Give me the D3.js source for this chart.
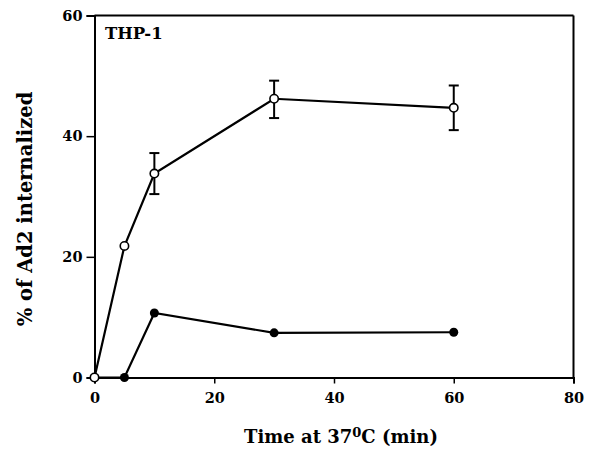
<!DOCTYPE html>
<html><head><meta charset="utf-8">
<script src="https://cdn.jsdelivr.net/npm/d3@7"></script>
<style>body{margin:0;background:#fff}svg{display:block}text{font-family:"DejaVu Serif","Liberation Serif",serif;font-weight:bold;fill:#000}</style>
</head><body><svg id="c" width="592" height="450"></svg>
<script>
const times = [0, 5, 10, 30, 60];
const openVals = [0, 21.8, 33.8, 46.2, 44.7];
const openErrLow = [null, null, 30.4, 43.0, 41.0];
const openErrHigh = [null, null, 37.2, 49.2, 48.4];
const filledVals = [0, 0, 10.7, 7.4, 7.5];
const xTicks = [0, 20, 40, 60, 80];
const yTicks = [0, 20, 40, 60];

const svg = d3.select("#c");
const x = d3.scaleLinear().domain([0, 80]).range([94.5, 573.5]);
const y = d3.scaleLinear().domain([0, 60]).range([377.5, 15.5]);

// frame
svg.append("line").attr("x1", x(0)).attr("x2", x(80)).attr("y1", y(60)).attr("y2", y(60)).attr("stroke", "#000").attr("stroke-width", 2);
svg.append("line").attr("x1", x(80)).attr("x2", x(80)).attr("y1", y(60)).attr("y2", y(0)).attr("stroke", "#000").attr("stroke-width", 2);

const xAxis = svg.append("g").attr("transform", `translate(0,${y(0)})`)
  .call(d3.axisBottom(x).tickValues(xTicks).tickSize(6).tickPadding(9).tickFormat(d3.format("d")));
const yAxis = svg.append("g").attr("transform", `translate(${x(0)},0)`)
  .call(d3.axisLeft(y).tickValues(yTicks).tickSize(8).tickPadding(4).tickFormat(d3.format("d")));
[xAxis, yAxis].forEach(a => {
  a.select(".domain").attr("stroke", "#000").attr("stroke-width", 2);
  a.selectAll(".tick line").attr("stroke", "#000").attr("stroke-width", 1.5);
  a.selectAll("text").style("font-family", '"DejaVu Serif",serif').style("font-weight", "bold").style("font-size", "14.5px").attr("fill", "#000");
});

// error bars
const capW = 5;
times.forEach((t, i) => {
  if (openErrLow[i] == null) return;
  const cx = x(t);
  const g = svg.append("g").attr("stroke", "#000").attr("stroke-width", 2);
  g.append("line").attr("x1", cx).attr("x2", cx).attr("y1", y(openErrHigh[i])).attr("y2", y(openErrLow[i]));
  g.append("line").attr("x1", cx - capW).attr("x2", cx + capW).attr("y1", y(openErrHigh[i])).attr("y2", y(openErrHigh[i]));
  g.append("line").attr("x1", cx - capW).attr("x2", cx + capW).attr("y1", y(openErrLow[i])).attr("y2", y(openErrLow[i]));
});

const line = d3.line().x(d => x(d[0])).y(d => y(d[1]));
const filledData = times.map((t, i) => [t, filledVals[i]]);
const openData = times.map((t, i) => [t, openVals[i]]);

svg.append("path").datum(filledData).attr("d", line).attr("fill", "none").attr("stroke", "#000").attr("stroke-width", 2.2);
svg.append("path").datum(openData).attr("d", line).attr("fill", "none").attr("stroke", "#000").attr("stroke-width", 2.2);

svg.selectAll("circle.f").data(filledData).enter().append("circle").attr("class", "f")
  .attr("cx", d => x(d[0])).attr("cy", d => y(d[1])).attr("r", 4.5).attr("fill", "#000");
svg.selectAll("circle.o").data(openData).enter().append("circle").attr("class", "o")
  .attr("cx", d => x(d[0])).attr("cy", d => y(d[1])).attr("r", 4.2).attr("fill", "#fff").attr("stroke", "#000").attr("stroke-width", 1.6);

svg.append("text").attr("x", 105).attr("y", 39).style("font-size", "16.5px").text("THP-1");

const xt = svg.append("text").attr("x", 341).attr("y", 443).attr("text-anchor", "middle").style("font-size", "18px");
xt.append("tspan").text("Time at 37");
xt.append("tspan").attr("dy", -6).style("font-size", "13px").text("0");
xt.append("tspan").attr("dy", 6).text("C (min)");

svg.append("text").attr("transform", "translate(32,209) rotate(-90)").attr("text-anchor", "middle").style("font-size", "19.5px").text("% of Ad2 internalized");
</script></body></html>
